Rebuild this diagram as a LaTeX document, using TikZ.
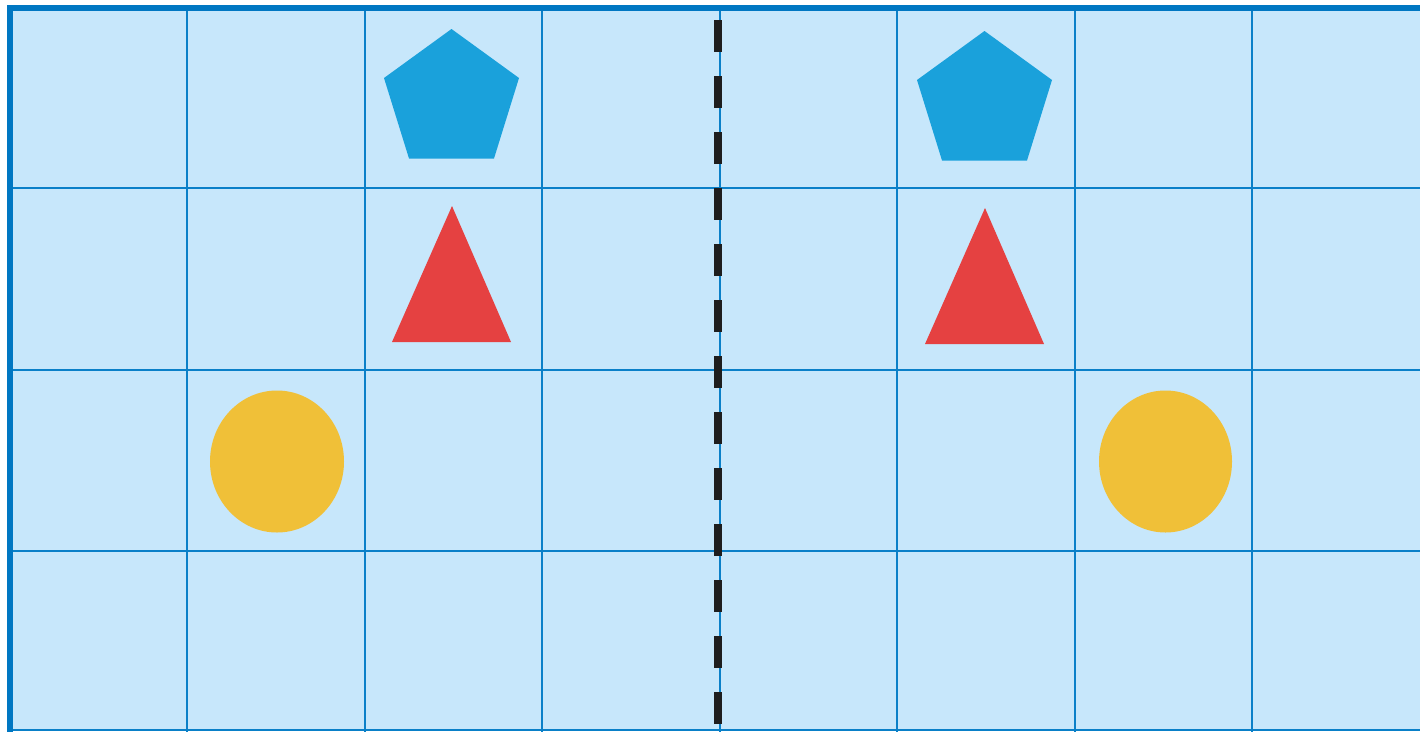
\documentclass[tikz,border=0pt]{standalone}
\usetikzlibrary{shapes.geometric}
\definecolor{cellfill}{HTML}{C7E7FB}
\definecolor{gridline}{HTML}{0A80C8}
\definecolor{borderline}{HTML}{0077C2}
\definecolor{pentblue}{HTML}{1AA1DB}
\definecolor{trired}{HTML}{E54141}
\definecolor{dotyellow}{HTML}{F0C038}
\definecolor{dashdark}{HTML}{1E1E1E}
\tikzset{
  gridthin/.style={draw=gridline, line width=2pt},
  gridborder/.style={draw=borderline, line width=6pt},
  pentshape/.style={fill=pentblue},
  trishape/.style={fill=trired},
  dotshape/.style={fill=dotyellow},
  mirrorline/.style={draw=dashdark, line width=8pt, dash pattern=on 32pt off 24pt},
}
\begin{document}
\begin{tikzpicture}[x=1pt,y=-1pt]
\useasboundingbox (0,0) rectangle (1420,731);
\fill[white] (0,0) rectangle (1420,731);
\begin{scope}
\clip (0,0) rectangle (1420,731);
% cells
\fill[cellfill] (10,8) rectangle (1440,731);
% inner grid lines
\foreach \x in {187,365,542,720,897,1075,1252} {
  \draw[gridthin] (\x,8) -- (\x,740);
}
\foreach \y in {188,370,551,730} {
  \draw[gridthin] (10,\y) -- (1440,\y);
}
% outer border (left and top)
\draw[gridborder] (10,740) -- (10,8) -- (1440,8);
% shapes, left half
\fill[pentshape] (451.5,29) -- (519,78) -- (494,158.5) -- (409,158.5) -- (384,78) -- cycle;
\fill[trishape] (452,206) -- (511,342) -- (392,342) -- cycle;
\fill[dotshape] (277,461.5) ellipse [x radius=67, y radius=71];
% shapes, right half
\fill[pentshape] (984.5,31) -- (1052,80) -- (1027,160.5) -- (942,160.5) -- (917,80) -- cycle;
\fill[trishape] (985,208) -- (1044,344) -- (925,344) -- cycle;
\fill[dotshape] (1165.5,461.5) ellipse [x radius=66.5, y radius=71];
% mirror line
\coordinate (mtop) at (718,20);
\coordinate (mbot) at (718,724);
\draw[mirrorline] (mtop) -- (mbot);
\end{scope}
\end{tikzpicture}
\end{document}
